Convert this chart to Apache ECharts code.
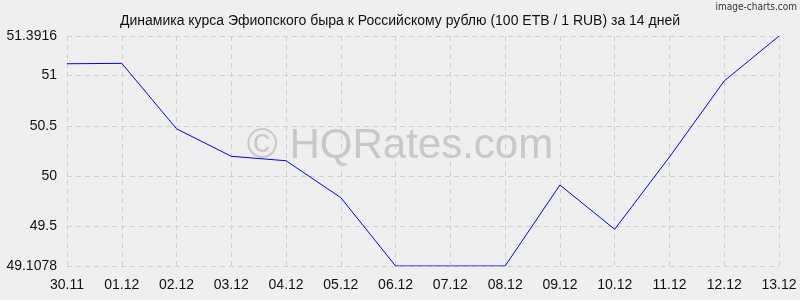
<!DOCTYPE html>
<html><head><meta charset="utf-8">
<script src="https://cdn.jsdelivr.net/npm/echarts@6/dist/echarts.min.js"></script>
<style>html,body{margin:0;padding:0;background:#efefef}#c{width:800px;height:300px}</style>
</head><body><div id="c"></div>
<script>
const categories = ['30.11','01.12','02.12','03.12','04.12','05.12','06.12','07.12','08.12','09.12','10.12','11.12','12.12','13.12'];
const rates = [51.116, 51.12, 50.47, 50.197, 50.153, 49.786, 49.1078, 49.1078, 49.1078, 49.912, 49.472, 50.19, 50.945, 51.3916];
const yTicks = [49.1078, 49.5, 50, 50.5, 51, 51.3916];
const yMin = 49.1078, yMax = 51.3916;
const titleText = 'Динамика курса Эфиопского быра к Российскому рублю (100 ETB / 1 RUB) за 14 дней';

const chart = echarts.init(document.getElementById('c'), null, {renderer:'canvas'});
const dash = {color:'#cfcfcf', type:[5,4], width:1};
chart.setOption({
  backgroundColor:'#efefef',
  animation:false,
  title:[{text:titleText, left:'center', top:9, textStyle:{fontFamily:'Liberation Sans', fontSize:14, fontWeight:'normal', color:'#111'}}],
  graphic:[
    {type:'text', z:0, silent:true, style:{x:400, y:146, text:'© HQRates.com', align:'center', verticalAlign:'middle', fontFamily:'Liberation Sans', fontSize:42, fill:'#c8c8c8'}},
    {type:'text', right:3, top:2, style:{text:'image-charts.com', fontFamily:'DejaVu Sans Condensed', fontSize:10, fill:'#333'}}
  ],
  grid:{left:67, right:21, top:36, bottom:34},
  xAxis:{type:'category', data:categories, boundaryGap:false,
    axisLine:{show:false}, axisTick:{show:false},
    axisLabel:{fontFamily:'Liberation Sans', fontSize:14, color:'#111', margin:12, interval:0},
    splitLine:{show:true, interval:0, lineStyle:dash}},
  yAxis:{type:'value', min:yMin, max:yMax,
    axisLine:{show:false},
    axisTick:{show:false, customValues:yTicks},
    axisLabel:{customValues:yTicks, fontFamily:'Liberation Sans', fontSize:14, color:'#111', margin:10, formatter:v=>String(v)},
    splitLine:{show:true, lineStyle:dash}},
  series:[{type:'line', data:rates, symbol:'none', lineStyle:{color:'#0000ff', width:1}, z:5}]
});
</script></body></html>
